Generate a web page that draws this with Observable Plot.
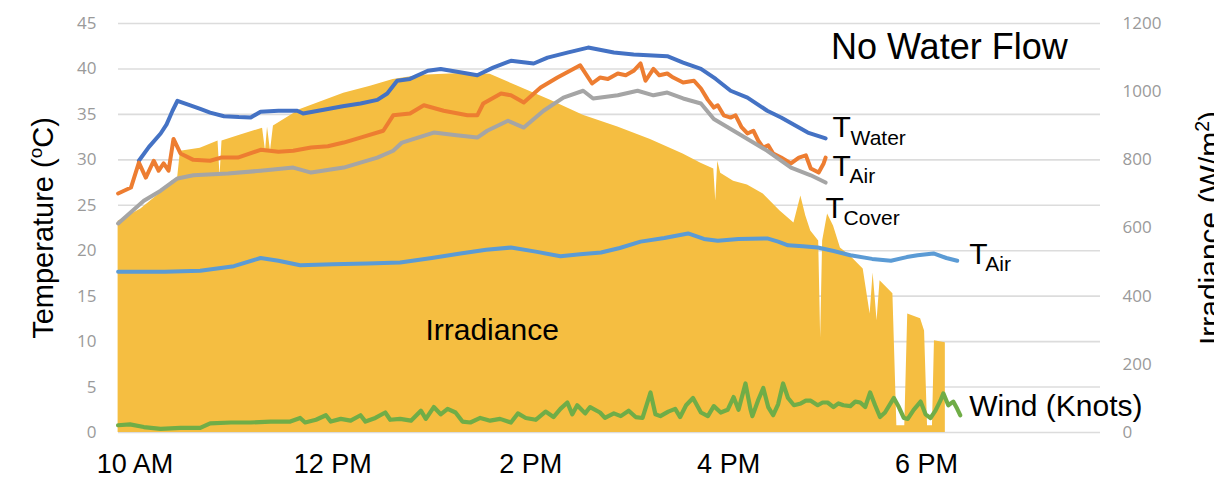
<!DOCTYPE html>
<html>
<head>
<meta charset="utf-8">
<script src="https://cdn.jsdelivr.net/npm/d3@7"></script>
<script src="https://cdn.jsdelivr.net/npm/@observablehq/plot@0.6"></script>
<style>
  html, body { margin: 0; padding: 0; background: #fff; }
  #chart { width: 1214px; height: 482px; overflow: hidden; }
</style>
</head>
<body>
<div id="chart"></div>
<script>
// Time of day in decimal hours; temperatures in °C
const waterTemp = [[10.04,29.9],[10.14,31.4],[10.26,32.9],[10.32,33.9],[10.38,35.4],[10.43,36.5],[10.48,36.3],[10.56,36.0],[10.66,35.6],[10.76,35.2],[10.90,34.8],[11.05,34.7],[11.17,34.65],[11.27,35.3],[11.45,35.4],[11.64,35.4],[11.70,35.1],[11.95,35.6],[12.10,35.9],[12.28,36.2],[12.45,36.6],[12.55,37.3],[12.65,38.7],[12.78,38.9],[12.96,39.8],[13.09,40.0],[13.30,39.6],[13.46,39.3],[13.62,40.15],[13.80,40.9],[14.03,40.6],[14.17,41.25],[14.37,41.8],[14.58,42.35],[14.84,41.8],[15.04,41.6],[15.38,41.4],[15.54,40.7],[15.72,40.0],[15.87,38.9],[16.02,37.6],[16.19,36.85],[16.39,35.4],[16.53,34.65],[16.80,33.0],[16.98,32.35]];

const airTemp = [[9.83,26.3],[9.96,26.95],[10.04,29.7],[10.11,28.05],[10.19,29.9],[10.24,28.8],[10.29,29.6],[10.34,28.8],[10.39,32.3],[10.46,30.7],[10.59,30.0],[10.76,29.9],[10.87,30.25],[11.04,30.25],[11.27,31.1],[11.45,30.9],[11.60,31.0],[11.78,31.35],[11.95,31.5],[12.11,31.9],[12.28,32.45],[12.51,33.2],[12.61,34.9],[12.78,35.1],[12.92,36.0],[13.12,35.4],[13.36,34.9],[13.46,34.9],[13.52,36.2],[13.70,37.3],[13.80,37.1],[13.93,36.3],[14.10,37.95],[14.27,39.05],[14.43,40.0],[14.50,40.4],[14.62,38.4],[14.70,39.05],[14.78,38.9],[14.88,39.5],[14.96,39.3],[15.04,39.8],[15.11,40.6],[15.16,38.7],[15.24,40.0],[15.30,39.3],[15.38,39.5],[15.44,39.05],[15.54,38.5],[15.65,38.7],[15.72,37.85],[15.79,36.6],[15.85,35.75],[15.89,36.0],[15.95,34.9],[16.02,34.65],[16.07,34.9],[16.13,33.6],[16.19,32.9],[16.25,33.2],[16.30,32.1],[16.35,31.35],[16.40,31.6],[16.45,30.7],[16.53,30.25],[16.63,29.6],[16.71,30.25],[16.78,30.5],[16.83,29.05],[16.91,28.6],[16.96,29.6],[16.98,30.25]];

const coverTemp = [[9.83,23.0],[10.09,25.5],[10.26,26.6],[10.43,27.95],[10.59,28.3],[10.94,28.5],[11.27,28.8],[11.60,29.15],[11.78,28.6],[12.11,29.15],[12.45,30.25],[12.61,31.0],[12.70,31.9],[13.02,33.0],[13.25,32.7],[13.46,32.45],[13.56,33.2],[13.77,34.3],[13.93,33.55],[14.13,35.4],[14.33,36.85],[14.53,37.6],[14.63,36.75],[14.88,37.1],[15.08,37.6],[15.24,37.1],[15.38,37.4],[15.54,36.75],[15.72,36.2],[15.85,34.5],[16.05,33.2],[16.39,31.0],[16.63,29.15],[16.83,28.3],[16.98,27.5]];

const ambientTemp = [[9.83,17.7],[10.30,17.7],[10.66,17.8],[11.00,18.3],[11.27,19.2],[11.45,18.9],[11.67,18.4],[12.00,18.5],[12.35,18.6],[12.68,18.7],[13.00,19.2],[13.29,19.7],[13.55,20.1],[13.80,20.35],[14.05,19.9],[14.30,19.4],[14.50,19.6],[14.71,19.8],[14.90,20.3],[15.11,21.0],[15.35,21.4],[15.59,21.9],[15.75,21.3],[15.89,21.1],[16.10,21.3],[16.39,21.35],[16.50,21.0],[16.60,20.6],[16.75,20.5],[16.90,20.35],[17.05,20.0],[17.23,19.5],[17.45,19.1],[17.64,18.9],[17.80,19.3],[17.91,19.5],[18.07,19.7],[18.20,19.2],[18.31,18.9]];

// Solar irradiance, W/m²
const irradiance = [[9.83,620],[10.06,656],[10.33,720],[10.37,737],[10.43,743],[10.46,825],[10.66,834],[10.84,855],[10.86,752],[10.88,855],[11.06,872],[11.29,893],[11.32,825],[11.34,896],[11.37,825],[11.40,899],[11.67,948],[12.11,995],[12.38,1016],[12.61,1036],[12.89,1048],[13.36,1054],[13.59,1051],[13.87,1016],[14.20,975],[14.53,931],[14.88,896],[15.21,860],[15.54,817],[15.72,790],[15.85,773],[15.87,679],[15.89,796],[15.92,761],[16.05,737],[16.19,726],[16.35,700],[16.52,650],[16.66,615],[16.73,694],[16.78,635],[16.83,591],[16.91,562],[16.93,278],[16.95,562],[17.00,641],[17.06,606],[17.13,541],[17.23,518],[17.36,480],[17.43,348],[17.46,468],[17.50,328],[17.53,445],[17.66,407],[17.70,20],[17.78,20],[17.81,348],[17.94,334],[17.98,298],[18.01,20],[18.06,20],[18.08,269],[18.19,263]];

// Wind speed, knots
const wind = [[9.83,0.8],[9.95,0.9],[10.09,0.6],[10.26,0.4],[10.46,0.5],[10.66,0.5],[10.76,1.0],[10.97,1.1],[11.17,1.1],[11.37,1.2],[11.57,1.2],[11.67,1.6],[11.72,1.1],[11.83,1.4],[11.93,1.9],[11.98,1.2],[12.08,1.5],[12.18,1.3],[12.28,1.9],[12.33,1.2],[12.43,1.6],[12.53,2.2],[12.58,1.4],[12.68,1.5],[12.79,1.3],[12.89,2.4],[12.94,1.5],[13.02,2.8],[13.09,2.0],[13.16,2.6],[13.24,2.2],[13.31,1.2],[13.39,1.1],[13.49,1.6],[13.59,1.3],[13.69,1.5],[13.80,1.1],[13.87,2.1],[13.95,1.6],[14.05,1.4],[14.15,2.3],[14.23,1.7],[14.30,2.6],[14.37,3.3],[14.42,2.0],[14.47,3.0],[14.55,2.1],[14.60,2.8],[14.70,2.2],[14.75,1.6],[14.84,2.1],[14.91,1.8],[14.99,2.4],[15.06,1.7],[15.13,1.6],[15.21,4.4],[15.26,2.0],[15.31,1.8],[15.39,2.3],[15.46,2.6],[15.51,1.7],[15.57,3.0],[15.64,3.8],[15.72,2.2],[15.79,1.8],[15.85,2.9],[15.92,2.2],[15.99,2.5],[16.05,3.9],[16.10,2.5],[16.17,5.4],[16.22,2.6],[16.24,1.8],[16.30,3.6],[16.35,4.9],[16.40,2.8],[16.45,1.9],[16.50,3.1],[16.55,5.4],[16.60,3.8],[16.66,3.0],[16.73,3.2],[16.78,3.5],[16.83,3.5],[16.90,3.0],[16.95,3.3],[17.00,3.3],[17.06,2.8],[17.11,3.2],[17.16,3.0],[17.23,2.9],[17.28,3.4],[17.33,3.3],[17.38,2.8],[17.43,4.4],[17.48,3.0],[17.53,1.7],[17.58,2.2],[17.67,3.8],[17.72,2.8],[17.77,1.6],[17.81,1.5],[17.87,2.5],[17.94,3.4],[17.99,2.0],[18.04,1.6],[18.09,2.4],[18.14,3.5],[18.17,4.3],[18.22,3.0],[18.27,3.4],[18.31,2.6],[18.34,1.9]];

const hourTicks = [10, 12, 14, 16, 18];
const hourLabels = ["10 AM", "12 PM", "2 PM", "4 PM", "6 PM"];
const tempTicks = d3.range(0, 46, 5);
const irrTicks = d3.range(0, 1201, 200);

const titleText = "No Water Flow";
const leftTitle = ["Temperature (", "o", "C)"];
const rightTitle = ["Irradiance (W/m", "2", ")"];

// irradiance shares the temperature axis: 1200 W/m² sits at 45 °C
const K = 45 / 1200;
const sans = "'Liberation Sans', Arial, Helvetica, sans-serif";
const tickFont = "'Open Sans', 'Liberation Sans', sans-serif";
const last = a => a[a.length - 1];
const X = d => d[0], Y = d => d[1];

const chart = Plot.plot({
  width: 1214,
  height: 482,
  marginLeft: 118,
  marginRight: 114,
  marginTop: 23,
  marginBottom: 50,
  x: {domain: [9.834, 19.758]},
  y: {domain: [0, 45]},
  style: {fontFamily: sans, background: "#fff", color: "#000"},
  marks: [
    Plot.gridY(tempTicks, {stroke: "#dcdcdc", strokeOpacity: 1, strokeWidth: 1.6}),
    Plot.areaY(irradiance, {x: X, y: d => d[1] * K, fill: "#F5BE41"}),
    Plot.line(waterTemp, {x: X, y: Y, stroke: "#4472C4", strokeWidth: 4}),
    Plot.line(airTemp, {x: X, y: Y, stroke: "#ED7D31", strokeWidth: 4}),
    Plot.line(coverTemp, {x: X, y: Y, stroke: "#A5A5A5", strokeWidth: 4}),
    Plot.line(ambientTemp, {x: X, y: Y, stroke: "#5B9BD5", strokeWidth: 4}),
    Plot.line(wind, {x: X, y: Y, stroke: "#70AD47", strokeWidth: 4.2}),

    Plot.axisY(tempTicks, {anchor: "left", tickSize: 0, tickPadding: 22, fontSize: 17, fontFamily: tickFont, color: "#9a9a9a", label: null}),
    Plot.axisY(irrTicks.map(v => v * K), {anchor: "right", tickSize: 0, tickPadding: 22, fontSize: 17, fontFamily: tickFont, color: "#9a9a9a", label: null, tickFormat: d => String(Math.round(d / K))}),
    Plot.axisX(hourTicks, {anchor: "bottom", tickSize: 0, tickPadding: 21, fontSize: 27, label: null, tickFormat: d => hourLabels[hourTicks.indexOf(d)]}),

    // series labels at the end of each line
    Plot.text([last(waterTemp)], {x: X, y: Y, text: () => "T", dx: 7, dy: -1, textAnchor: "start", lineAnchor: "bottom", fontSize: 30}),
    Plot.text([last(waterTemp)], {x: X, y: Y, text: () => "Water", dx: 25, dy: 7, textAnchor: "start", lineAnchor: "bottom", fontSize: 21}),
    Plot.text([last(airTemp)], {x: X, y: Y, text: () => "T", dx: 7, dy: 18, textAnchor: "start", lineAnchor: "bottom", fontSize: 30}),
    Plot.text([last(airTemp)], {x: X, y: Y, text: () => "Air", dx: 24, dy: 25, textAnchor: "start", lineAnchor: "bottom", fontSize: 21}),
    Plot.text([last(coverTemp)], {x: X, y: Y, text: () => "T", dx: 0, dy: 35, textAnchor: "start", lineAnchor: "bottom", fontSize: 30}),
    Plot.text([last(coverTemp)], {x: X, y: Y, text: () => "Cover", dx: 18, dy: 42, textAnchor: "start", lineAnchor: "bottom", fontSize: 21}),
    Plot.text([last(ambientTemp)], {x: X, y: Y, text: () => "T", dx: 12, dy: 3, textAnchor: "start", lineAnchor: "bottom", fontSize: 30}),
    Plot.text([last(ambientTemp)], {x: X, y: Y, text: () => "Air", dx: 28, dy: 10, textAnchor: "start", lineAnchor: "bottom", fontSize: 21}),
    Plot.text([last(wind)], {x: X, y: Y, text: () => "Wind (Knots)", dx: 9, dy: -9, textAnchor: "start", lineAnchor: "middle", fontSize: 30}),

    // annotations
    Plot.text([[13.61, 11.2]], {x: X, y: Y, text: () => "Irradiance", textAnchor: "middle", lineAnchor: "middle", fontSize: 30}),
    Plot.text([[18.23, 42.35]], {x: X, y: Y, text: () => titleText, textAnchor: "middle", lineAnchor: "middle", fontSize: 36}),

    // axis titles
    Plot.text([leftTitle.join("")], {frameAnchor: "left", text: d => d, rotate: -90, dx: -66, textAnchor: "middle", lineAnchor: "bottom", fontSize: 29}),
    Plot.text([rightTitle.join("")], {frameAnchor: "right", text: d => d, rotate: -90, dx: 119, textAnchor: "middle", lineAnchor: "bottom", fontSize: 30})
  ]
});

// raise the superscript part of the axis titles
function superscript(svg, parts, shift) {
  d3.select(svg).selectAll("text")
    .filter(function () { return this.textContent === parts.join(""); })
    .each(function () {
      const t = d3.select(this);
      t.text(null);
      t.append("tspan").text(parts[0]);
      t.append("tspan").attr("dy", -shift).attr("font-size", "65%").text(parts[1]);
      t.append("tspan").attr("dy", shift).text(parts[2]);
    });
}
superscript(chart, leftTitle, 11);
superscript(chart, rightTitle, 11);

document.getElementById("chart").append(chart);
</script>
</body>
</html>
